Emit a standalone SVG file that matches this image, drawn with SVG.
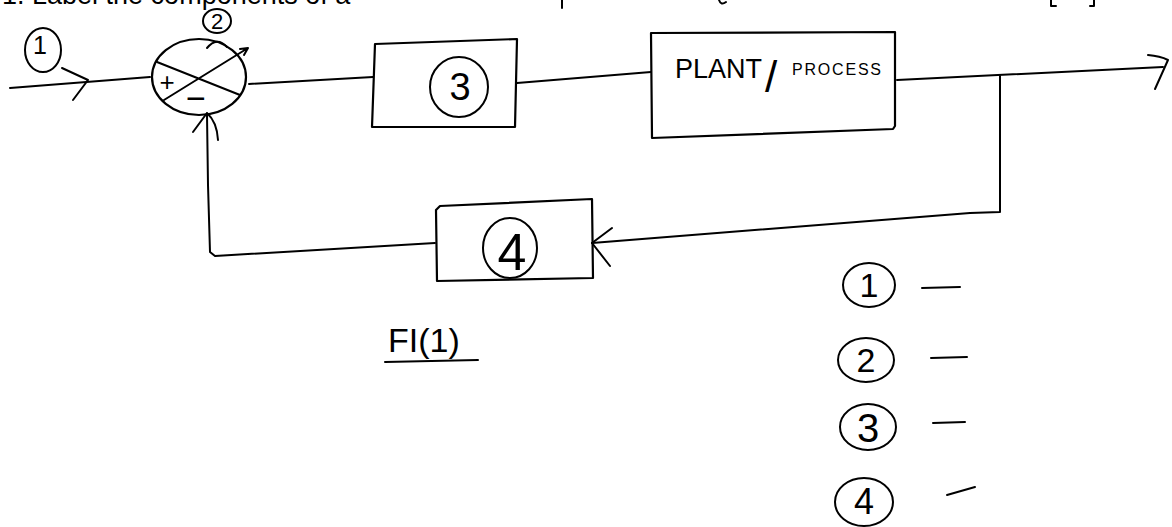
<svg xmlns="http://www.w3.org/2000/svg" width="1172" height="527" viewBox="0 0 1172 527">
<style>
.ln{stroke:#000;stroke-width:2;fill:none;stroke-linecap:round;stroke-linejoin:round}
.bx{stroke:#000;stroke-width:2.2;fill:none;stroke-linejoin:round}
.t{font-family:"Liberation Sans",Arial,sans-serif;fill:#000}
.m{text-anchor:middle}
</style>
<rect width="1172" height="527" fill="#fff"/>
<g id="heading">
<text class="t" x="2" y="4" font-size="27">1. Label the components of a</text>
<path class="ln" d="M562,0 L562,8 M719,0 Q721,6 726,2 M1051,0 L1051,6 L1056,6 M1094,0 L1094,6 L1090,6"/>
</g>
<g id="connectors">
<path class="ln" d="M10,88 L150,77"/>
<path class="ln" d="M62,68 L88,80 L73,100"/>
<path class="ln" d="M249,84 L373,77"/>
<path class="ln" d="M517,83 L651,72"/>
<path class="ln" d="M897,80 L1163,67"/>
<path class="ln" d="M1148,55 Q1160,56 1168,60 L1155,89"/>
<path class="ln" d="M1000,76 L1000,212 L970,213 L592,243"/>
<path class="ln" d="M612,228 L592,243 L610,266"/>
<path class="ln" d="M435,243 L215,256 L210,252 L208,185 L207,115"/>
<path class="ln" d="M193,132 L207,113 M218,140 Q217,122 207,113"/>
</g>
<g id="label1">
<ellipse class="ln" cx="43" cy="50" rx="18" ry="22"/>
<text class="t m" x="40" y="54" font-size="25">1</text>
</g>
<g id="summer">
<ellipse class="bx" cx="199" cy="77" rx="47" ry="38"/>
<path class="ln" d="M157,62 L240,95 M164,100 L248,48 M240,49 L248,48 L244,55"/>
<text class="t m" x="167" y="91" font-size="26">+</text>
<text class="t m" x="196" y="110" font-size="34">−</text>
</g>
<g id="label2">
<ellipse class="ln" cx="217" cy="21" rx="14" ry="12"/>
<text class="t m" x="217" y="29" font-size="22">2</text>
<path class="ln" d="M207,48 Q217,36 227,47"/>
</g>
<g id="block3">
<path class="bx" d="M375,44 L517,39 L515,127 L372,127 Z"/>
<ellipse class="ln" cx="459" cy="87" rx="29" ry="30"/>
<text class="t m" x="460" y="100" font-size="38">3</text>
</g>
<g id="plant">
<path class="bx" d="M651,33 L895,32 L895,126 L893,129 L652,138 Z"/>
<text class="t" y="78" font-size="27"><tspan x="675">PLANT</tspan></text>
<text class="t" x="765" y="92" font-size="44">/</text>
<text class="t" x="792" y="75" font-size="16" letter-spacing="1.8">PROCESS</text>
</g>
<g id="block4">
<path class="bx" d="M436,210 L440,206 L592,199 L593,278 L437,281 Z"/>
<ellipse class="ln" cx="510" cy="248" rx="27" ry="30"/>
<text class="t m" x="512" y="270" font-size="52">4</text>
</g>
<g id="figlabel">
<text class="t" x="388" y="352" font-size="34">FI(1)</text>
<path class="ln" d="M385,362 L478,360"/>
</g>
<g id="legend">
<ellipse class="ln" cx="869" cy="285" rx="26" ry="22"/>
<text class="t m" x="869" y="297" font-size="34">1</text>
<path class="ln" d="M922,288 L960,287"/>
<ellipse class="ln" cx="866" cy="360" rx="28" ry="22"/>
<text class="t m" x="866" y="372" font-size="34">2</text>
<path class="ln" d="M931,358 L967,357"/>
<ellipse class="ln" cx="868" cy="427" rx="28" ry="23"/>
<text class="t m" x="868" y="442" font-size="40">3</text>
<path class="ln" d="M933,423 L965,422"/>
<ellipse class="ln" cx="864" cy="502" rx="29" ry="24"/>
<text class="t m" x="864" y="514" font-size="36">4</text>
<path class="ln" d="M947,495 L975,487"/>
</g>
</svg>
